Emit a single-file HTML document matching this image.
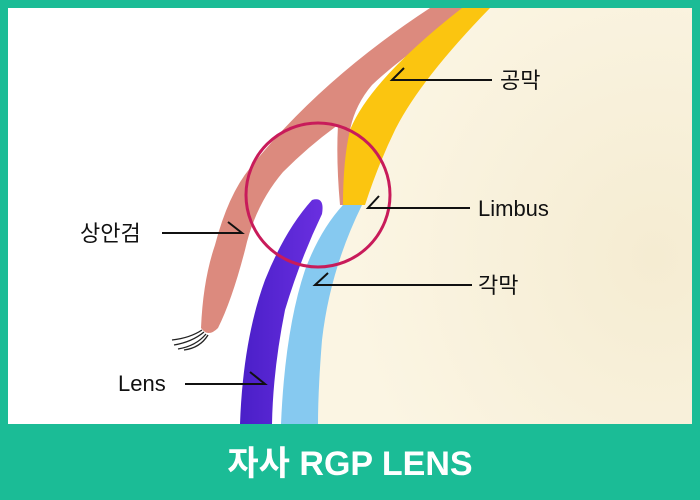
<!DOCTYPE html>
<html><head><meta charset="utf-8"><style>
html,body{margin:0;padding:0;width:700px;height:500px;overflow:hidden;background:#1bbc96}
svg{display:block}
</style></head><body>
<svg width="700" height="500" viewBox="0 0 700 500" xmlns="http://www.w3.org/2000/svg">
<defs>
<radialGradient id="bg" cx="0.9" cy="0.6" r="0.8">
<stop offset="0" stop-color="#f5ecd2"/><stop offset="1" stop-color="#fbf5e3"/>
</radialGradient>
<linearGradient id="pur" x1="0" y1="0" x2="1" y2="0"><stop offset="0" stop-color="#4a1fc8"/><stop offset="1" stop-color="#6a2fe0"/></linearGradient>
</defs>
<rect x="0" y="0" width="700" height="500" fill="#1bbc96"/>
<rect x="8" y="8" width="684" height="416" fill="#ffffff"/>
<path d="M465,8 L692,8 L692,424 L316,424 Q316,300 338,220 Q370,100 465,8 Z" fill="url(#bg)"/>
<path d="M430,8 L485,8 Q420,40 372,85 Q355,105 350,130 Q347,170 345,205 L340,205 Q336,160 338,125 Q310,145 283,172 Q255,205 245,250 Q232,300 218,328 Q208,338 201,328 Q203,280 215,245 Q228,195 250,168 Q320,80 430,8 Z" fill="#dc8a7e"/>
<path d="M462,8 L490,8 Q420,80 395,130 Q378,165 365,205 L343,205 Q343,160 350,130 Q370,80 462,8 Z" fill="#fbc510"/>
<path d="M343,205 L362,205 Q330,270 322,340 Q318,390 318,424 L281,424 Q285,330 305,270 Q320,230 343,205 Z" fill="#86c9f0"/>
<path d="M312,200 Q325,196 322,214 Q300,260 285,310 Q273,370 272,424 L240,424 Q243,340 265,280 Q285,230 312,200 Z" fill="url(#pur)"/>
<g stroke="#222" stroke-width="1.3" fill="none">
<path d="M202,330 Q190,338 172,340"/><path d="M204,332 Q192,342 174,345"/><path d="M206,334 Q196,346 178,349"/><path d="M208,335 Q200,348 184,350"/>
</g>
<circle cx="318" cy="195" r="72" fill="none" stroke="#c81b5a" stroke-width="3"/>
<g stroke="#111" stroke-width="2" fill="none">
<path d="M492,80 L392,80 L404,68"/>
<path d="M470,208 L368,208 L379,196"/>
<path d="M472,285 L315,285 L328,273"/>
<path d="M162,233 L242,233 L228,222"/>
<path d="M185,384 L265,384 L250,372"/>
</g>
<g font-family="'Liberation Sans','Noto Sans CJK KR',sans-serif" font-size="22" fill="#111">
<text x="500" y="88">공막</text>
<text x="478" y="216">Limbus</text>
<text x="478" y="293">각막</text>
<text x="80" y="241">상안검</text>
<text x="118" y="391">Lens</text>
</g>
<text x="350" y="475" text-anchor="middle" font-family="'Liberation Sans','Noto Sans CJK KR',sans-serif" font-size="34" font-weight="bold" fill="#ffffff">자사 RGP LENS</text>
</svg>
</body></html>
